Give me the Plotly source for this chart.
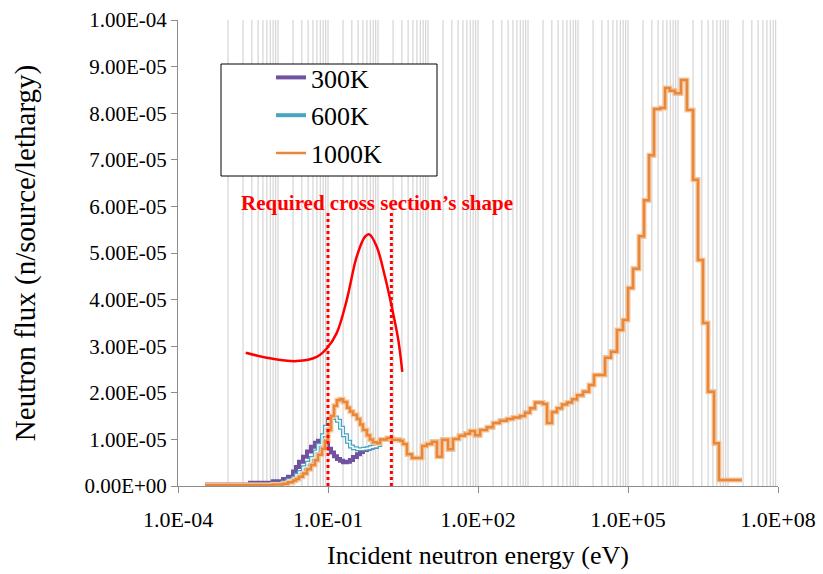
import numpy as np
import plotly.graph_objects as go

# ---------------- data ----------------
# group boundaries (eV)
edges = [3.47e-4, 2.75e-3, 7.9e-3, 0.0126, 0.0158, 0.020, 0.0229, 0.0263, 0.0316, 0.038,
         0.0457, 0.055, 0.063, 0.076, 0.087, 0.10, 0.115, 0.132, 0.151, 0.174,
         0.20, 0.24, 0.275, 0.316, 0.38, 0.437, 0.50, 0.60, 0.69, 0.79,
         0.95, 1.10, 1.51, 1.91, 2.75, 3.16, 3.8, 4.79, 7.6, 9.5,
         12.0, 15.1, 19.1, 25.1, 31.6, 41.7, 55, 69, 87, 110,
         151, 200, 275, 380, 500, 692, 871, 1096, 1380, 1995,
         2400, 3020, 3800, 4790, 6030, 7590, 9550, 1.26e4, 1.66e4, 2.09e4,
         3.47e4, 4.57e4, 6.03e4, 7.94e4, 1.0e5, 1.26e5, 1.66e5, 2.09e5, 2.63e5, 3.31e5,
         4.37e5, 5.5e5, 6.9e5, 8.7e5, 1.15e6, 1.51e6, 2.0e6, 2.51e6, 3.16e6, 3.98e6,
         5.25e6, 6.6e6, 1.9e7]

# thermal part (first 31 groups) differs between temperatures (units 1e-5)
thermal_300 = [0.03, 0.07, 0.10, 0.15, 0.20, 0.31, 0.41, 0.52, 0.63, 0.74,
               0.84, 0.93, 0.97, 0.95, 0.90, 0.80, 0.72, 0.64, 0.58, 0.54,
               0.51, 0.52, 0.56, 0.62, 0.68, 0.73, 0.77, 0.80, 0.82, 0.84, 0.88]
thermal_600 = [0.02, 0.03, 0.05, 0.08, 0.13, 0.17, 0.24, 0.30, 0.40, 0.50,
               0.60, 0.74, 0.88, 1.09, 1.27, 1.40, 1.46, 1.47, 1.40, 1.25,
               1.09, 0.95, 0.85, 0.81, 0.79, 0.79, 0.80, 0.81, 0.83, 0.85, 0.88]
thermal_1000 = [0.02, 0.02, 0.03, 0.05, 0.08, 0.12, 0.15, 0.20, 0.27, 0.36,
                0.45, 0.55, 0.67, 0.80, 0.97, 1.20, 1.50, 1.72, 1.84, 1.86,
                1.80, 1.68, 1.60, 1.53, 1.44, 1.32, 1.20, 1.09, 1.00, 0.94, 0.92]
# epithermal + fast part, common to all temperatures (units 1e-5)
common = [1.00, 1.03, 0.99, 0.97, 0.90, 0.68, 0.60, 0.86, 0.90, 0.95,
          0.63, 0.99, 0.79, 1.01, 1.08, 1.12, 1.18, 1.09, 1.20, 1.26,
          1.35, 1.40, 1.44, 1.47, 1.50, 1.57, 1.67, 1.79, 1.76, 1.35,
          1.59, 1.67, 1.75, 1.79, 1.86, 1.95, 2.02, 2.17, 2.38, 2.75,
          2.88, 3.35, 3.56, 4.25, 4.66, 5.36, 6.13, 7.10, 8.09, 8.11,
          8.54, 8.48, 8.43, 8.71, 8.07, 6.57, 4.85, 3.50, 2.02, 0.92, 0.13]

# required cross-section shape (arbitrary units shown on flux scale, 1e-5)
xs_energy = [2.26e-3, 6.9e-3, 0.0237, 0.0594, 0.0942, 0.149, 0.237, 0.375, 0.55, 0.67,
             0.94, 1.38, 1.88, 2.55, 3.06]
xs_value = [2.86, 2.74, 2.68, 2.77, 2.95, 3.28, 3.99, 4.92, 5.35, 5.40,
            5.14, 4.49, 3.85, 3.13, 2.45]

bounds_energy = [0.10, 1.85]
bounds_top = 5.86

series_names = ["300K", "600K", "1000K"]
grid_decades = list(range(-3, 8))
grid_mant = [1, 2, 3, 4, 5, 6, 7, 8, 9]
x_ticks = [1e-4, 1e-1, 1e2, 1e5, 1e8]
y_ticks = [i * 1e-5 for i in range(11)]

# ---------------- figure ----------------
FONT = "Liberation Serif"
n = len(edges) - 1
vals = {
    "300K": (thermal_300 + common)[:n],
    "600K": (thermal_600 + common)[:n],
    "1000K": (thermal_1000 + common)[:n],
}


def step_xy(v):
    v = [a * 1e-5 for a in v]
    return edges[:len(v) + 1], v + [v[-1]]


fig = go.Figure()

# vertical log gridlines
gx, gy = [], []
for d in grid_decades:
    for m in grid_mant:
        e = m * 10.0 ** d
        gx += [e, e, None]
        gy += [0, 1e-4, None]
fig.add_trace(go.Scatter(x=gx, y=gy, mode="lines", line=dict(color="#cccccc", width=1),
                         hoverinfo="skip", showlegend=False))

sx, sy = step_xy(vals["300K"])
fig.add_trace(go.Scatter(x=sx, y=sy, mode="lines", line_shape="hv",
                         line=dict(color="#7052A0", width=4), name="300K",
                         legendgroup="a"))
sx, sy = step_xy(vals["600K"])
fig.add_trace(go.Scatter(x=sx, y=sy, mode="lines", line_shape="hv",
                         line=dict(color="#46A6C0", width=4), name="600K",
                         legendgroup="b"))
fig.add_trace(go.Scatter(x=sx, y=sy, mode="lines", line_shape="hv",
                         line=dict(color="white", width=1.5), showlegend=False,
                         legendgroup="b"))
sx, sy = step_xy(vals["1000K"])
fig.add_trace(go.Scatter(x=sx, y=sy, mode="lines", line_shape="hv",
                         line=dict(color="#F6C8A0", width=5), showlegend=False,
                         legendgroup="c"))
fig.add_trace(go.Scatter(x=sx, y=sy, mode="lines", line_shape="hv",
                         line=dict(color="#E8873A", width=2.5), name="1000K",
                         legendgroup="c"))

# red dotted bounds
for e in bounds_energy:
    fig.add_trace(go.Scatter(x=[e, e], y=[0, bounds_top * 1e-5], mode="lines",
                             line=dict(color="#FF0000", width=3, dash="dot"),
                             showlegend=False, hoverinfo="skip"))

# required cross-section shape
fig.add_trace(go.Scatter(x=xs_energy, y=[v * 1e-5 for v in xs_value], mode="lines",
                         line=dict(color="#FF0000", width=2.5, shape="spline", smoothing=1.0),
                         showlegend=False))

fig.add_annotation(x=np.log10(0.955), y=6.08e-5, xref="x", yref="y",
                   text="<b>Required cross section’s shape</b>", showarrow=False,
                   font=dict(family=FONT, size=21, color="#FF0000"))

# legend box
fig.add_shape(type="rect", xref="paper", yref="paper",
              x0=(221 - 178) / 600, x1=(437 - 178) / 600,
              y0=(486 - 176) / 466, y1=(486 - 64) / 466,
              line=dict(color="black", width=1), fillcolor="white", layer="above")

fig.update_layout(
    width=823, height=574,
    margin=dict(l=178, r=45, t=20, b=88, autoexpand=False),
    paper_bgcolor="white", plot_bgcolor="white",
    font=dict(family=FONT, color="black"),
    showlegend=True,
    legend=dict(x=(271 - 178) / 600, y=(486 - 54) / 466, xanchor="left", yanchor="top",
                bgcolor="rgba(0,0,0,0)", borderwidth=0,
                font=dict(family=FONT, size=26, color="black"),
                traceorder="grouped", tracegroupgap=1),
    xaxis=dict(type="log", range=[-4, 8], showgrid=False, zeroline=False,
               showline=True, linecolor="#8c8c8c", linewidth=1, automargin=False,
               ticks="outside", ticklen=6, tickcolor="#8c8c8c",
               tickvals=x_ticks, ticktext=[f"{v:.1E}" for v in x_ticks],
               tickfont=dict(family=FONT, size=22, color="black"),
               ticklabelstandoff=8,
               title=dict(text="Incident neutron energy (eV)",
                          font=dict(family=FONT, size=26, color="black"), standoff=14)),
    yaxis=dict(range=[0, 1e-4], showgrid=False, zeroline=False,
               showline=True, linecolor="#8c8c8c", linewidth=1, automargin=False,
               ticks="outside", ticklen=6, tickcolor="#8c8c8c",
               tickvals=y_ticks, ticktext=[f"{v:.2E}" for v in y_ticks],
               tickfont=dict(family=FONT, size=21, color="black"),
               title=dict(text="Neutron flux (n/source/lethargy)",
                          font=dict(family=FONT, size=29, color="black"), standoff=40)),
)

fig.write_html("out.html")
